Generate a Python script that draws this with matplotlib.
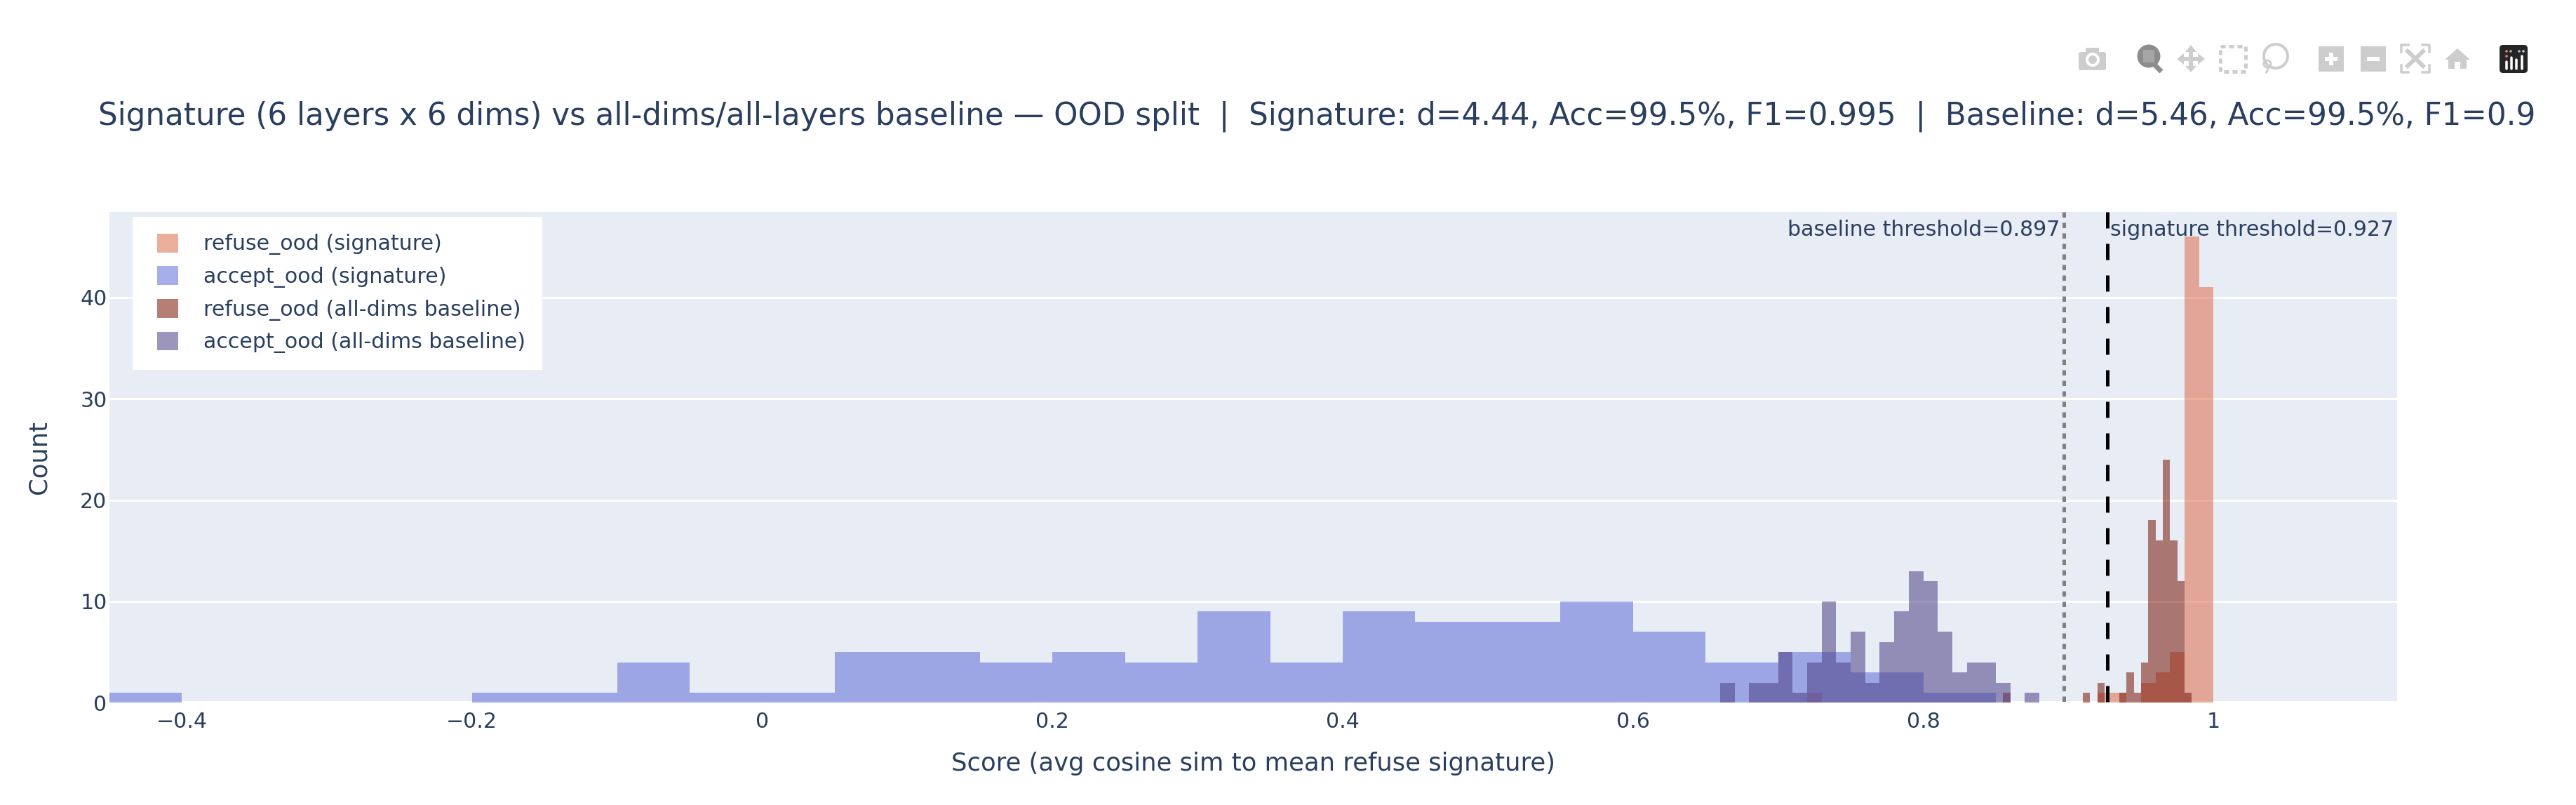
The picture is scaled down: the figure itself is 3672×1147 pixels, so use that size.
import matplotlib
matplotlib.use("Agg")
import matplotlib.pyplot as plt
from matplotlib.container import BarContainer
from matplotlib.legend_handler import HandlerPatch, update_from_first_child
from matplotlib.patches import Rectangle, Circle, Polygon, FancyBboxPatch
from matplotlib.transforms import Bbox

W, H = 3672, 1147
plt.rcParams['font.family'] = 'DejaVu Sans'
plt.rcParams['lines.scale_dashes'] = False

# histogram bins: left edge and count of every non-empty bin
sig_refuse_edges = [0.72, 0.92, 0.93, 0.95, 0.96, 0.97, 0.98, 0.99]
sig_refuse_counts = [1, 1, 1, 2, 3, 5, 46, 41]
sig_refuse_width = 0.01

sig_accept_edges = [-0.45, -0.20, -0.15, -0.10, -0.05, 0.00, 0.05, 0.10, 0.15, 0.20, 0.25,
                    0.30, 0.35, 0.40, 0.45, 0.50, 0.55, 0.60, 0.65, 0.70, 0.75, 0.80]
sig_accept_counts = [1, 1, 1, 4, 1, 1, 5, 5, 4, 5, 4, 9, 4, 9, 8, 8, 10, 7, 4, 5, 3, 1]
sig_accept_width = 0.05

base_refuse_edges = [0.855, 0.91, 0.92, 0.935, 0.94, 0.945, 0.95, 0.955, 0.96, 0.965, 0.97, 0.975, 0.98]
base_refuse_counts = [1, 1, 2, 1, 3, 1, 4, 18, 16, 24, 16, 12, 1]
base_refuse_width = 0.005

base_accept_edges = [0.66, 0.68, 0.69, 0.70, 0.71, 0.72, 0.73, 0.74, 0.75, 0.76, 0.77, 0.78,
                     0.79, 0.80, 0.81, 0.82, 0.83, 0.84, 0.85, 0.87]
base_accept_counts = [2, 2, 2, 5, 1, 4, 10, 4, 7, 2, 6, 9, 13, 12, 7, 3, 4, 4, 2, 1]
base_accept_width = 0.01

baseline_threshold = 0.897
signature_threshold = 0.927

x_ticks = [-0.4, -0.2, 0, 0.2, 0.4, 0.6, 0.8, 1]
x_labels = ['\u22120.4', '\u22120.2', '0', '0.2', '0.4', '0.6', '0.8', '1']
y_ticks = [0, 10, 20, 30, 40]

title = ("Signature (6 layers x 6 dims) vs all-dims/all-layers baseline \u2014 OOD split  |  "
         "Signature: d=4.44, Acc=99.5%, F1=0.995  |  Baseline: d=5.46, Acc=99.5%, F1=0.995")

INK = '#2a3f5f'
BG = '#e8ecf5'
ICON = '#cdcdcd'


def px(n):
    return n * 72 / 100


fig = plt.figure(figsize=(W / 100, H / 100), dpi=100)
left, right, top, bottom = 155.5, 3417, 302, 1001.4
ax = fig.add_axes([left / W, 1 - bottom / H, (right - left) / W, (bottom - top) / H])
ax.set_facecolor(BG)
ax.set_xlim(-0.45, 1.1265)
ax.set_ylim(0, 48.43)
for s in ax.spines.values():
    s.set_visible(False)

for y in y_ticks[1:]:
    ax.axhline(y, color='white', lw=px(3), zorder=1)
ax.axhline(0, color='white', lw=px(5), zorder=1, clip_on=False)

series = [
    (sig_refuse_edges, sig_refuse_counts, sig_refuse_width, '#dc6d4b', 'refuse_ood (signature)'),
    (sig_accept_edges, sig_accept_counts, sig_accept_width, '#5f6dd9', 'accept_ood (signature)'),
    (base_refuse_edges, base_refuse_counts, base_refuse_width, '#781606', 'refuse_ood (all-dims baseline)'),
    (base_accept_edges, base_accept_counts, base_accept_width, '#4c4085', 'accept_ood (all-dims baseline)'),
]
for edges, counts, width, color, label in series:
    ax.bar(edges, counts, width=width, align='edge', color=color, alpha=0.55, lw=0,
           antialiased=False, label=label, zorder=2)

ax.plot([baseline_threshold] * 2, [48.43, 0], color='#808080', lw=px(5),
        ls=(0, (px(7.5), px(7.5))), zorder=3)
ax.plot([signature_threshold] * 2, [48.43, 0], color='black', lw=px(5),
        ls=(0, (px(23), px(22))), zorder=3)

ax.set_xticks(x_ticks)
ax.set_xticklabels(x_labels)
ax.set_yticks(y_ticks)
ax.tick_params(axis='both', length=0, labelsize=px(30), labelcolor=INK)
ax.tick_params(axis='x', pad=px(13))
ax.tick_params(axis='y', pad=px(3))

fig.text(1787 / W, 1 - 1088 / H, 'Score (avg cosine sim to mean refuse signature)', color=INK,
         fontsize=px(35.4), ha='center', va='center')
fig.text(56 / W, 1 - 651 / H, 'Count', color=INK, fontsize=px(35.4), rotation=90,
         ha='center', va='center')

fig.text(2937 / W, 1 - 328 / H, 'baseline threshold=%.3f' % baseline_threshold, color=INK,
         fontsize=px(30), ha='right', va='center', zorder=10)
fig.text(3008 / W, 1 - 328 / H, 'signature threshold=%.3f' % signature_threshold, color=INK,
         fontsize=px(30), ha='left', va='center', zorder=10)

# title runs off the right side and gets cut
t = fig.text(140 / W, 1 - 166 / H, title, color=INK, fontsize=px(43.6), ha='left', va='center')
t.set_clip_box(Bbox([[0, 0], [3617, H]]))
t.set_clip_on(True)

# xpad pushes the swatches right without widening the padding above and below
swatch = HandlerPatch(xpad=0.38, update_func=update_from_first_child)
leg = ax.legend(loc='upper left', bbox_to_anchor=(189 / W, 1 - 309 / H),
                bbox_transform=fig.transFigure, borderaxespad=0, fontsize=px(30),
                frameon=True, fancybox=False, framealpha=1, facecolor='white', edgecolor='none',
                labelcolor=INK, handlelength=1.38, handleheight=1.0, handletextpad=1.2,
                borderpad=0.79, labelspacing=0.53, handler_map={BarContainer: swatch})
leg.set_zorder(5)

# toolbar icons, drawn in pixel coordinates
tb = fig.add_axes([0, 0, 1, 1], zorder=20)
tb.set_xlim(0, W)
tb.set_ylim(H, 0)
tb.axis('off')


def box(x0, y0, x1, y1, color=ICON, rounding=0):
    tb.add_patch(FancyBboxPatch((x0, y0), x1 - x0, y1 - y0,
                                boxstyle='round,pad=0,rounding_size=%g' % rounding, fc=color, ec='none'))


# camera
box(2963, 74, 3002, 100, rounding=3)
box(2973, 68, 2992, 76, rounding=2)
tb.add_patch(Circle((2983, 85), 10, fc='white', ec='none'))
tb.add_patch(Circle((2983, 85), 6, fc=ICON, ec='none'))
# zoom, the active tool
tb.plot([3070, 3081], [91, 102], color='#8c8c8c', lw=px(7), solid_capstyle='butt')
tb.add_patch(Circle((3063, 80), 16.5, fc='#8c8c8c', ec='none'))
box(3055, 71, 3071, 89, color='#a6a6a6')
# pan
tb.add_patch(Polygon([(3123, 64), (3131, 74), (3126, 74), (3126, 81), (3133, 81), (3133, 76), (3143, 84),
                      (3133, 92), (3133, 87), (3126, 87), (3126, 94), (3131, 94), (3123, 103),
                      (3115, 94), (3120, 94), (3120, 87), (3113, 87), (3113, 92), (3103, 84),
                      (3113, 76), (3113, 81), (3120, 81), (3120, 74), (3115, 74)], fc=ICON, ec='none'))
# box select
tb.add_patch(Rectangle((3165, 66), 36, 36, fc='none', ec=ICON, lw=px(5), ls=(0, (px(7), px(5)))))
# lasso
tb.add_patch(Circle((3244, 80), 17, fc='none', ec=ICON, lw=px(4)))
tb.add_patch(Circle((3232, 91), 5, fc='none', ec=ICON, lw=px(3)))
tb.plot([3234, 3231], [96, 103], color=ICON, lw=px(3))
# zoom in / zoom out
box(3305, 66, 3341, 102)
tb.plot([3323, 3323], [75, 93], color='white', lw=px(6), solid_capstyle='butt')
tb.plot([3314, 3332], [84, 84], color='white', lw=px(6), solid_capstyle='butt')
box(3365, 66, 3401, 102)
tb.plot([3374, 3392], [84, 84], color='white', lw=px(6), solid_capstyle='butt')
# autoscale
for sx, sy in [(3423, 64), (3463, 64), (3423, 103), (3463, 103)]:
    dx = 10 if sx == 3423 else -10
    dy = 10 if sy == 64 else -10
    tb.plot([sx + dx, sx, sx], [sy, sy, sy + dy], color=ICON, lw=px(3.5))
tb.plot([3432, 3454], [73, 94], color=ICON, lw=px(6))
tb.plot([3454, 3432], [73, 94], color=ICON, lw=px(6))
# home
tb.add_patch(Polygon([(3485, 85), (3503, 69), (3521, 85), (3516, 85), (3516, 98), (3507, 98), (3507, 88),
                      (3499, 88), (3499, 98), (3490, 98), (3490, 85)], fc=ICON, ec='none'))
# logo
box(3563, 64, 3603, 104, color='#252525', rounding=5)
for x, c in zip([3571, 3577, 3589, 3595], ['#d98a73', '#c8a59a', '#b0b6c8', '#a7d4e6']):
    tb.add_patch(Circle((x + 2, 73), 1.8, fc=c, ec='none'))
for x, y0 in zip([3573, 3580, 3587, 3595], [88, 82, 85, 80]):
    tb.plot([x, x], [y0, 98], color='white', lw=px(3.5), solid_capstyle='round')
tb.add_patch(Circle((3573, 80), 1.8, fc='#d98a73', ec='none'))

fig.savefig('out.png', dpi=100)
